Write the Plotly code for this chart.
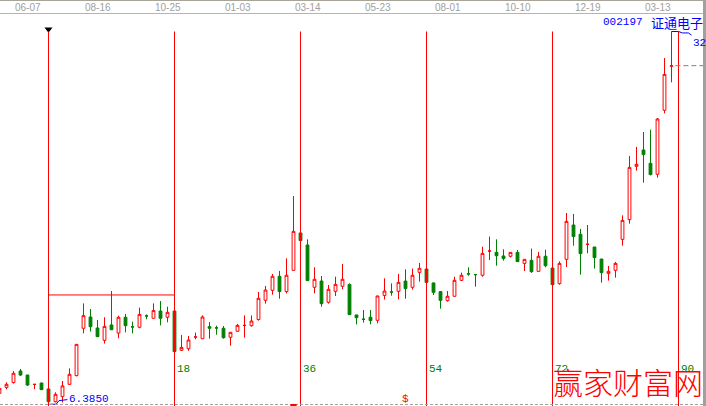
import plotly.graph_objects as go

# ---------------- data (weekly bars, index 0 = first cycle line) ----------------
bar_idx = list(range(-7, 90))
opens = [7.02, 7.43, 7.76, 8.56, 8.28, 7.63, 7.73,
         7.32, 6.44, 6.79, 7.64, 8.24, 11.51, 12.29, 11.53, 10.68, 11.74,
         11.18, 12.27, 11.61, 11.58, 12.37, 12.20, 12.70, 12.27, 12.70, 9.99,
         10.10, 10.90, 10.79, 11.62, 11.54, 11.51, 10.89, 11.30, 11.70, 11.69,
         12.11, 13.44, 14.13, 15.10, 14.04, 15.51, 18.09, 17.26, 14.34, 14.77,
         13.30, 14.06, 14.41, 14.54, 12.43, 12.14, 12.27, 12.06, 13.78, 14.02,
         14.06, 14.77, 14.34, 15.37, 15.60, 14.64, 14.04, 13.42, 13.72, 14.82,
         15.27, 15.22, 15.17, 16.84, 16.75, 16.50, 16.48, 16.75, 15.99, 16.20,
         15.44, 16.48, 15.67, 14.59, 16.27, 18.64, 18.00, 17.30, 17.12, 16.29,
         15.30, 15.51, 17.65, 19.01, 22.69, 23.82, 22.90, 22.14, 26.56, 29.60]
highs = [7.48, 7.78, 8.56, 8.70, 8.30, 7.65, 7.75,
         7.33, 7.09, 7.87, 8.74, 10.42, 13.23, 12.84, 12.08, 12.27, 14.08,
         12.38, 12.50, 11.97, 12.93, 12.47, 13.23, 13.39, 13.00, 12.72, 11.05,
         10.98, 11.21, 12.40, 11.94, 11.69, 11.67, 11.24, 11.81, 12.40, 12.40,
         14.02, 14.43, 15.26, 15.47, 16.34, 20.64, 18.10, 17.65, 15.72, 15.12,
         14.50, 15.07, 15.95, 14.61, 12.44, 12.77, 12.77, 13.75, 14.96, 14.61,
         15.26, 15.58, 15.63, 16.02, 15.62, 14.65, 14.05, 14.08, 15.07, 15.35,
         15.72, 15.22, 17.14, 17.84, 17.65, 16.96, 16.76, 16.91, 16.28, 17.01,
         16.78, 16.94, 15.68, 16.13, 19.47, 19.40, 18.37, 18.64, 17.13, 16.30,
         15.81, 16.09, 19.31, 23.41, 24.03, 25.06, 25.22, 26.03, 30.17, 32.00]
lows = [6.90, 7.30, 7.69, 8.22, 7.53, 7.30, 7.25,
        6.40, 6.39, 6.385, 7.59, 8.19, 11.16, 11.28, 10.90, 10.45, 11.40,
        10.82, 11.23, 11.16, 11.51, 12.13, 12.18, 11.71, 11.92, 9.88, 9.94,
        9.96, 10.75, 10.78, 10.79, 11.07, 10.79, 10.31, 11.29, 10.86, 11.62,
        12.04, 13.21, 13.83, 13.55, 13.92, 15.50, 17.55, 14.78, 13.92, 13.00,
        13.21, 13.74, 14.20, 12.43, 11.78, 11.90, 11.78, 11.85, 13.49, 13.76,
        13.51, 13.55, 14.18, 14.73, 14.67, 13.81, 12.86, 13.35, 13.70, 14.77,
        15.14, 14.38, 15.07, 16.22, 15.83, 16.18, 16.39, 16.09, 15.46, 15.33,
        15.43, 15.72, 14.51, 14.52, 15.74, 17.21, 15.21, 16.69, 15.63, 14.66,
        14.80, 15.01, 17.21, 18.73, 22.39, 21.56, 22.07, 21.91, 26.35, 28.49]
closes = [7.36, 7.64, 8.40, 8.28, 7.59, 7.64, 7.27,
          6.44, 6.95, 7.53, 8.33, 10.40, 12.38, 11.62, 10.93, 11.64, 11.41,
          12.27, 11.69, 11.60, 12.47, 12.36, 12.73, 12.20, 12.61, 9.90, 10.19,
          10.70, 10.91, 12.29, 11.51, 11.53, 10.86, 11.23, 11.71, 11.71, 12.01,
          13.58, 14.15, 15.10, 14.04, 15.17, 18.20, 17.56, 14.80, 14.89, 13.21,
          14.20, 14.54, 14.89, 12.45, 12.24, 12.13, 12.04, 13.74, 14.08, 14.01,
          14.68, 14.25, 15.17, 15.65, 14.68, 13.99, 13.44, 13.72, 14.82, 15.17,
          15.26, 15.21, 16.68, 16.85, 16.52, 16.32, 16.75, 16.11, 16.27, 15.42,
          16.48, 15.83, 14.52, 15.99, 18.89, 17.84, 16.66, 17.31, 16.39, 15.35,
          15.44, 15.99, 18.96, 22.62, 22.83, 23.50, 22.12, 25.96, 29.04, 29.64]

date_labels = ["06-07", "08-16", "10-25", "01-03", "03-14",
               "05-23", "08-01", "10-10", "12-19", "03-13"]
date_label_bars = [-5, 5, 15, 25, 35, 45, 55, 65, 75, 85]
cycle_bars = [0, 18, 36, 54, 72, 90]
box_level = 13.81          # horizontal line over first cycle
last_price = 29.64
stock_code = "002197"
stock_name = "证通电子"
watermark = "赢家财富网"

# ---------------- styling ----------------
RED = "#ff0000"
GREEN = "#008000"
BLUE = "#0000ff"
GRAY = "#a0a0a0"
W, H = 706, 406
BAR_PX = 7.0
X0_PX = 48.5            # pixel centre of bar 0 (half pixel for crisp 1px lines)
Y_VIEW = [6.143, 34.175]
X_VIEW = [-X0_PX / BAR_PX, (W - X0_PX) / BAR_PX]
MONO = "Liberation Mono, DejaVu Sans Mono, monospace"


def py(px):
    """paper y fraction for a pixel row measured from the top"""
    return 1 - px / H


def pxf(px):
    return px / W


fig = go.Figure()

fig.add_trace(go.Candlestick(
    x=bar_idx, open=opens, high=highs, low=lows, close=closes,
    increasing=dict(line=dict(color=RED, width=1), fillcolor="white"),
    decreasing=dict(line=dict(color=GREEN, width=1), fillcolor=GREEN),
    whiskerwidth=0, hoverinfo="skip", showlegend=False,
))

top = max(highs)
low_val = min(lows)
low_bar = bar_idx[lows.index(low_val)]
last_bar = bar_idx[-1]

shapes = []
# cycle lines
for b in cycle_bars:
    shapes.append(dict(type="line", xref="x", yref="y", x0=b, x1=b,
                       y0=Y_VIEW[0], y1=top, line=dict(color=RED, width=1)))
# box top line over first cycle
shapes.append(dict(type="line", xref="x", yref="y", x0=cycle_bars[0], x1=cycle_bars[1],
                   y0=box_level, y1=box_level, line=dict(color=RED, width=1)))
# current price dashed marker
shapes.append(dict(type="line", xref="x", yref="y", x0=last_bar + 0.55, x1=X_VIEW[1] - 0.4,
                   y0=last_price, y1=last_price, line=dict(color="#808080", width=1, dash="5px,3px")))
# top band lines
shapes.append(dict(type="line", xref="paper", yref="paper", x0=0, x1=1, y0=py(0.5), y1=py(0.5),
                   line=dict(color="#a8a498", width=1)))
shapes.append(dict(type="line", xref="paper", yref="paper", x0=0, x1=1, y0=py(13.5), y1=py(13.5),
                   line=dict(color="#b4b4b4", width=1)))
# bottom dashed line
shapes.append(dict(type="line", xref="paper", yref="paper", x0=0, x1=1, y0=py(404.5), y1=py(404.5),
                   line=dict(color=GRAY, width=1, dash="3px,2px")))
# right border
shapes.append(dict(type="rect", xref="paper", yref="paper", x0=pxf(703), x1=1, y0=0, y1=1,
                   line=dict(width=0), fillcolor=GRAY))
# small red marker at bottom under the highest early bar
peak_bar = bar_idx[highs.index(max(highs[:60]))]
shapes.append(dict(type="line", xref="x", yref="paper", x0=peak_bar - 0.45, x1=peak_bar + 0.45,
                   y0=py(405), y1=py(405), line=dict(color=RED, width=2)))

# connectors for high / low labels
fig.add_trace(go.Scatter(
    x=[last_bar, last_bar + 1, last_bar + 1.57, last_bar + 2.43, last_bar + 2.86],
    y=[top, top, top - 0.1, top - 0.1, top - 0.25],
    mode="lines", line=dict(color=BLUE, width=1), hoverinfo="skip", showlegend=False))
fig.add_trace(go.Scatter(
    x=[low_bar - 1.85, low_bar - 0.9, low_bar - 0.5, low_bar + 0.7],
    y=[low_val - 0.12, low_val - 0.12, low_val + 0.13, low_val + 0.2],
    mode="lines", line=dict(color=BLUE, width=1), hoverinfo="skip", showlegend=False))
# start marker
fig.add_trace(go.Scatter(
    x=[cycle_bars[0]], y=[top + 0.16], mode="markers",
    marker=dict(symbol="triangle-down", size=7, color="black"),
    hoverinfo="skip", showlegend=False))

ann = []
for lbl, b in zip(date_labels, date_label_bars):
    ann.append(dict(text=lbl, x=b, xref="x", xanchor="left", y=py(7), yref="paper",
                    yanchor="middle", showarrow=False, borderpad=0,
                    font=dict(family="Liberation Sans, Arial", size=10, color=GRAY)))
for b in cycle_bars[1:]:
    ann.append(dict(text=str(b), x=b, xref="x", xanchor="left", xshift=1, y=py(369), yref="paper",
                    yanchor="middle", showarrow=False, borderpad=0,
                    font=dict(family=MONO, size=11, color=GREEN)))
ann.append(dict(text=f"{low_val:.4f}", x=low_bar + 0.75, xref="x", xanchor="left",
                y=low_val + 0.22, yref="y", yanchor="middle", showarrow=False, borderpad=0,
                font=dict(family=MONO, size=11, color=BLUE)))
ann.append(dict(text=f"{top:.0f}", x=last_bar + 2.95, xref="x", xanchor="left",
                y=top - 0.8, yref="y", yanchor="middle", showarrow=False, borderpad=0,
                font=dict(family=MONO, size=11, color=BLUE)))
ann.append(dict(text=stock_code, x=pxf(644), xref="paper", xanchor="right", y=py(22), yref="paper",
                yanchor="middle", showarrow=False, borderpad=0,
                font=dict(family=MONO, size=11, color=BLUE)))
ann.append(dict(text=stock_name, x=pxf(704), xref="paper", xanchor="right", y=py(22), yref="paper",
                yanchor="middle", showarrow=False, borderpad=0,
                font=dict(family="Noto Sans CJK SC", size=13, color=BLUE)))
ann.append(dict(text="$", x=51, xref="x", xanchor="center", y=py(399), yref="paper",
                yanchor="middle", showarrow=False, borderpad=0,
                font=dict(family=MONO, size=11, color=RED)))
ann.append(dict(text=watermark, x=pxf(704), xref="paper", xanchor="right", y=py(381), yref="paper",
                yanchor="middle", showarrow=False, borderpad=0,
                font=dict(family="Noto Sans CJK SC", size=30, color=RED, weight=300)))

fig.update_layout(
    width=W, height=H, autosize=False,
    margin=dict(l=0, r=0, t=0, b=0, pad=0),
    paper_bgcolor="white", plot_bgcolor="white",
    shapes=shapes, annotations=ann,
    xaxis=dict(range=X_VIEW, visible=False, rangeslider=dict(visible=False), fixedrange=True),
    yaxis=dict(range=Y_VIEW, visible=False, fixedrange=True),
    boxgap=3 / 7,
)

fig.write_html("out.html",
               config={"displayModeBar": False, "staticPlot": True},
               post_script="document.body.style.margin='0';document.body.style.padding='0';")
